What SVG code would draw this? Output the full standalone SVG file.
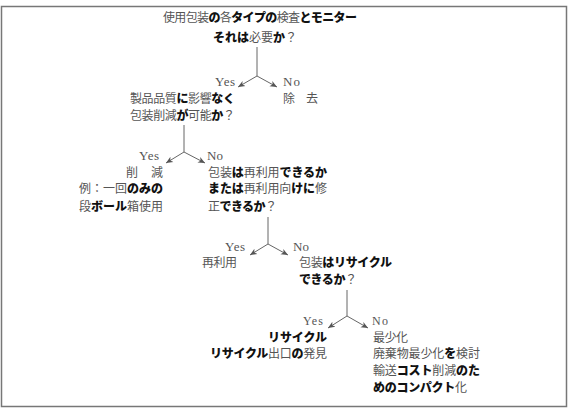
<svg xmlns="http://www.w3.org/2000/svg" width="569" height="409" viewBox="0 0 569 409">
<defs>
<style>
.t{font-family:"Noto Sans CJK JP","Noto Sans",sans-serif;font-size:12px;fill:#555;}
.b{font-weight:900;fill:#111;}
.yn{font-family:"Liberation Serif",serif;font-size:13px;fill:#555;}
.ln{stroke:#666;stroke-width:1;fill:none;}
</style>
<marker id="ah" markerWidth="8" markerHeight="8" refX="7" refY="4" orient="auto" markerUnits="userSpaceOnUse">
<path d="M0,1 L7,4 L0,7 L2,4 Z" fill="#555"/>
</marker>
</defs>
<rect x="0" y="0" width="569" height="409" fill="#fff"/>
<rect x="1.5" y="6.5" width="565" height="400" fill="none" stroke="#777" stroke-width="1.5"/>

<g id="connectors">
<path class="ln" d="M257,47 V76"/>
<path class="ln" d="M257,76 L238,87" marker-end="url(#ah)"/>
<path class="ln" d="M257,76 L277,87" marker-end="url(#ah)"/>
<path class="ln" d="M184,125 V152"/>
<path class="ln" d="M184,152 L166,163" marker-end="url(#ah)"/>
<path class="ln" d="M184,152 L205,163" marker-end="url(#ah)"/>
<path class="ln" d="M268,217 V244"/>
<path class="ln" d="M268,244 L250,255" marker-end="url(#ah)"/>
<path class="ln" d="M268,244 L288,255" marker-end="url(#ah)"/>
<path class="ln" d="M347,290 V316"/>
<path class="ln" d="M347,316 L328,328" marker-end="url(#ah)"/>
<path class="ln" d="M347,316 L368,328" marker-end="url(#ah)"/>
<text class="yn" x="215" y="86" textLength="20">Yes</text>
<text class="yn" x="283" y="86" textLength="17">No</text>
<text class="yn" x="139" y="160" textLength="20">Yes</text>
<text class="yn" x="207" y="160" textLength="16">No</text>
<text class="yn" x="225" y="251" textLength="20">Yes</text>
<text class="yn" x="293" y="251" textLength="16">No</text>
<text class="yn" x="303" y="325" textLength="20" style="font-size:12px">Yes</text>
<text class="yn" x="372" y="325" textLength="16" style="font-size:12px">No</text>
</g>

<g id="q1">
<text class="t" x="163" y="22" textLength="194">使用包装<tspan class="b">の</tspan>各<tspan class="b">タイプの</tspan>検査<tspan class="b">とモニター</tspan></text>
<text class="t" x="213" y="42" textLength="84"><tspan class="b">それは</tspan>必要<tspan class="b">か</tspan>？</text>
</g>

<g id="remove">
<text class="t" x="283" y="103" textLength="35">除　去</text>
</g>

<g id="q2">
<text class="t" x="130" y="103" textLength="105">製品品質<tspan class="b">に</tspan>影響<tspan class="b">なく</tspan></text>
<text class="t" x="130" y="120" textLength="105">包装削減<tspan class="b">が</tspan>可能<tspan class="b">か</tspan>？</text>
</g>

<g id="reduce">
<text class="t" x="126" y="177" textLength="37">削　減</text>
<text class="t" x="79" y="193" textLength="84">例：一回<tspan class="b">のみの</tspan></text>
<text class="t" x="79" y="211" textLength="84">段<tspan class="b">ボール</tspan>箱使用</text>
</g>

<g id="q3">
<text class="t" x="208" y="177" textLength="119">包装<tspan class="b">は</tspan>再利用<tspan class="b">できるか</tspan></text>
<text class="t" x="208" y="193" textLength="119"><tspan class="b">または</tspan>再利用向<tspan class="b">けに</tspan>修</text>
<text class="t" x="208" y="211" textLength="69">正<tspan class="b">できるか</tspan>？</text>
</g>

<g id="reuse">
<text class="t" x="202" y="267" textLength="35">再利用</text>
</g>

<g id="q4">
<text class="t" x="299" y="267" textLength="93">包装<tspan class="b">はリサイクル</tspan></text>
<text class="t" x="299" y="284" textLength="58"><tspan class="b">できるか</tspan>？</text>
</g>

<g id="recycle">
<text class="t" x="268" y="342" textLength="59"><tspan class="b">リサイクル</tspan></text>
<text class="t" x="210" y="358" textLength="117"><tspan class="b">リサイクル</tspan>出口<tspan class="b">の</tspan>発見</text>
</g>

<g id="minimize">
<text class="t" x="373" y="342" textLength="35">最少化</text>
<text class="t" x="373" y="358" textLength="107">廃棄物最少化<tspan class="b">を</tspan>検討</text>
<text class="t" x="373" y="375" textLength="107">輸送<tspan class="b">コスト</tspan>削減<tspan class="b">のた</tspan></text>
<text class="t" x="373" y="392" textLength="94"><tspan class="b">めのコンパクト</tspan>化</text>
</g>
</svg>
